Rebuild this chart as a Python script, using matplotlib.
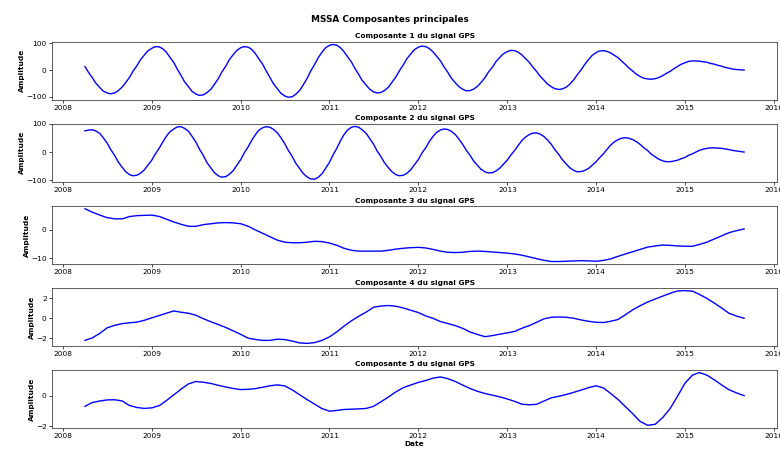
import matplotlib
matplotlib.use("Agg")
import matplotlib.pyplot as plt
import matplotlib.dates as mdates
import pandas as pd

# semi-monthly dates for the two oscillating components, monthly for the others
dates_semi = pd.date_range("2008-04-01", "2015-09-01", freq="SMS")
dates_month = pd.date_range("2008-04-01", periods=90, freq="MS")

comp1 = [13, -8, -28, -48, -65, -78, -85, -88, -85, -77, -63, -47, -27, -5, 17, 38, 56, 71, 81, 87,
         86, 79, 67, 49, 28, 4, -20, -43, -63, -79, -89, -94, -92, -84, -71, -53, -32, -8, 15, 38,
         57, 72, 83, 87, 85, 77, 63, 44, 22, -2, -27, -50, -70, -86, -96, -101, -99, -90, -75, -55,
         -31, -5, 21, 45, 66, 82, 92, 95, 92, 83, 69, 51, 30, 7, -16, -38, -56, -71, -81, -85,
         -83, -76, -63, -45, -25, -3, 20, 42, 60, 75, 85, 89, 87, 80, 68, 53, 34, 13, -8, -29,
         -47, -61, -71, -77, -76, -71, -60, -46, -28, -8, 11, 31, 47, 60, 69, 73, 72, 66, 57, 44,
         29, 12, -5, -22, -38, -52, -62, -69, -72, -70, -63, -52, -36, -18, 2, 21, 39, 54, 65, 71,
         72, 69, 64, 56, 46, 34, 21, 8, -4, -15, -24, -30, -33, -34, -32, -28, -21, -13, -5, 4,
         13, 21, 27, 32, 34, 34, 33, 31, 29, 25, 22, 18, 14, 10, 7, 4, 2, 1, 0]

comp2 = [75, 78, 79, 75, 66, 51, 32, 10, -12, -34, -54, -69, -80, -84, -82, -75, -63, -47, -28, -7,
         15, 36, 55, 71, 82, 89, 90, 84, 73, 56, 35, 11, -13, -37, -57, -73, -84, -89, -87, -79,
         -66, -48, -27, -4, 19, 41, 60, 76, 86, 90, 88, 81, 68, 51, 30, 7, -16, -39, -59, -76,
         -88, -95, -96, -90, -77, -59, -36, -11, 15, 40, 61, 77, 88, 91, 88, 79, 66, 48, 28, 5,
         -17, -38, -56, -70, -80, -84, -82, -75, -63, -46, -27, -5, 16, 37, 55, 69, 78, 82, 80, 74,
         62, 47, 28, 8, -12, -31, -48, -61, -70, -74, -73, -67, -57, -44, -28, -11, 7, 24, 40, 52,
         62, 67, 68, 64, 55, 43, 27, 9, -9, -27, -43, -56, -65, -70, -69, -65, -58, -47, -34, -20,
         -5, 10, 24, 35, 44, 49, 51, 49, 44, 37, 27, 16, 5, -7, -17, -25, -31, -34, -34, -32,
         -29, -24, -19, -12, -6, 0, 6, 10, 13, 15, 15, 14, 13, 11, 9, 6, 4, 2, 0]

comp3 = [7.2, 6.0, 5.0, 4.1, 3.7, 3.7, 4.5, 4.8, 4.9, 5.0,
         4.5, 3.6, 2.6, 1.8, 1.1, 1.1, 1.7, 2.0, 2.3, 2.4,
         2.3, 2.0, 1.1, -0.1, -1.3, -2.5, -3.7, -4.4, -4.6, -4.6,
         -4.4, -4.1, -4.2, -4.7, -5.5, -6.5, -7.2, -7.5, -7.5, -7.5,
         -7.5, -7.2, -6.8, -6.5, -6.3, -6.2, -6.4, -6.9, -7.5, -7.9,
         -8.0, -7.9, -7.6, -7.5, -7.6, -7.8, -8.0, -8.2, -8.5, -8.9,
         -9.5, -10.1, -10.7, -11.1, -11.1, -11.0, -10.9, -10.8, -10.9, -11.0,
         -10.7, -10.2, -9.3, -8.5, -7.7, -6.9, -6.1, -5.7, -5.4, -5.5,
         -5.7, -5.8, -5.8, -5.2, -4.4, -3.3, -2.2, -1.1, -0.4, 0.2]

comp4 = [-2.2, -1.95, -1.5, -0.95, -0.7, -0.53, -0.45, -0.38, -0.2, 0.05,
         0.28, 0.5, 0.73, 0.6, 0.5, 0.3, -0.05, -0.35, -0.62, -0.92,
         -1.25, -1.6, -1.98, -2.1, -2.2, -2.2, -2.08, -2.12, -2.27, -2.45,
         -2.5, -2.42, -2.2, -1.85, -1.33, -0.8, -0.25, 0.2, 0.62, 1.1,
         1.22, 1.27, 1.2, 1.02, 0.8, 0.57, 0.23, 0.0, -0.33, -0.52,
         -0.73, -1.0, -1.37, -1.62, -1.83, -1.72, -1.58, -1.45, -1.3, -1.0,
         -0.73, -0.4, -0.05, 0.1, 0.13, 0.1, 0.0, -0.17, -0.3, -0.4,
         -0.42, -0.3, -0.12, 0.35, 0.85, 1.25, 1.62, 1.92, 2.2, 2.48,
         2.72, 2.75, 2.7, 2.38, 1.98, 1.52, 1.02, 0.5, 0.22, 0.0]

comp5 = [-0.70, -0.45, -0.35, -0.28, -0.27, -0.35, -0.65, -0.78, -0.84, -0.80,
         -0.65, -0.33, 0.05, 0.43, 0.78, 0.93, 0.88, 0.80, 0.68, 0.57,
         0.47, 0.40, 0.42, 0.46, 0.55, 0.65, 0.71, 0.64, 0.38, 0.05,
         -0.26, -0.56, -0.85, -1.02, -0.97, -0.91, -0.89, -0.87, -0.84, -0.70,
         -0.40, -0.08, 0.25, 0.53, 0.70, 0.87, 1.00, 1.15, 1.23, 1.12,
         0.93, 0.70, 0.47, 0.28, 0.14, 0.03, -0.08, -0.22, -0.38, -0.56,
         -0.60, -0.57, -0.35, -0.14, -0.04, 0.08, 0.22, 0.37, 0.53, 0.65,
         0.50, 0.15, -0.25, -0.72, -1.20, -1.70, -1.95, -1.88, -1.45, -0.85,
         -0.05, 0.82, 1.35, 1.52, 1.35, 1.05, 0.70, 0.39, 0.18, 0.0]

series = [(dates_semi, comp1), (dates_semi, comp2), (dates_month, comp3),
          (dates_month, comp4), (dates_month, comp5)]
titles = [f"Composante {i} du signal GPS" for i in range(1, 6)]
yticks = [[-100, 0, 100], [-100, 0, 100], [-10, 0], [-2, 0, 2], [-2, 0]]

fs = 5.3
fig = plt.figure(figsize=(7.8, 4.5), dpi=100)
fig.suptitle("MSSA Composantes principales", fontsize=6.4, fontweight="bold", y=0.967)

left, width, height = 0.0667, 0.9295, 0.129
bottoms = [0.778, 0.596, 0.413, 0.231, 0.049]

for i, ((d, vals), title, yt) in enumerate(zip(series, titles, yticks)):
    ax = fig.add_axes([left, bottoms[i], width, height])
    ax.plot(d, vals, color="blue", linewidth=1.0)
    ax.set_title(title, fontsize=fs, fontweight="bold", pad=2.5)
    ax.set_ylabel("Amplitude", fontsize=fs, fontweight="bold", labelpad=1)
    ax.set_yticks(yt)
    ax.xaxis.set_major_locator(mdates.YearLocator())
    ax.xaxis.set_major_formatter(mdates.DateFormatter("%Y"))
    ax.tick_params(labelsize=fs, length=2, width=0.5, pad=1.8)
    for sp in ax.spines.values():
        sp.set_linewidth(0.6)
        sp.set_color("#444444")
    if i == 4:
        ax.set_xlabel("Date", fontsize=fs, fontweight="bold", labelpad=1)

fig.savefig("out.png", dpi=100)
